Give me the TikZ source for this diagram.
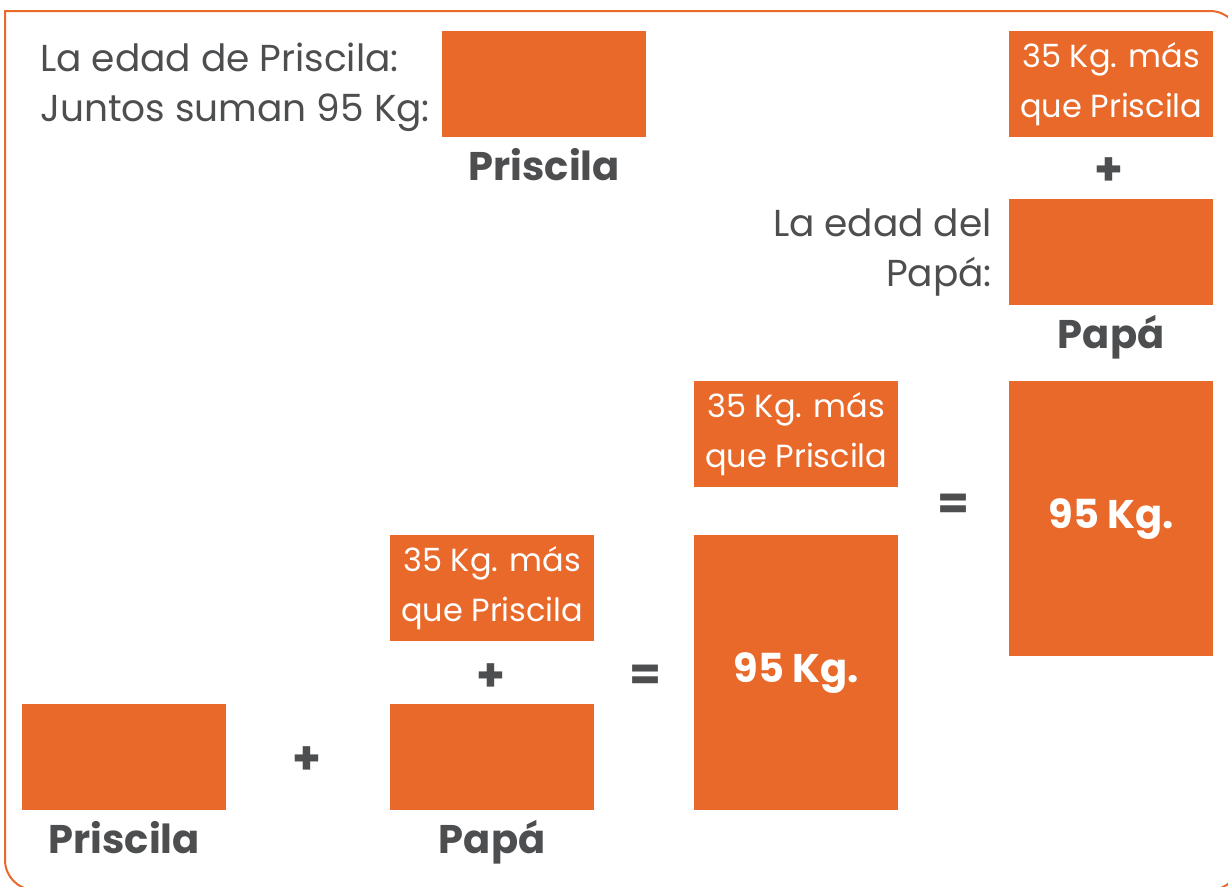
\documentclass[tikz,border=0pt]{standalone}
\usepackage{fontspec}
\setmainfont{Poppins}
\usepackage{xcolor}
\usepackage{tikz}
\usetikzlibrary{positioning}
\definecolor{naranja}{HTML}{E8692A}
\definecolor{texto}{HTML}{4D4E50}

\begin{document}
\begin{tikzpicture}[x=1pt,y=-1pt, every node/.style={text=texto,font=\fontsize{37.5}{50}\selectfont}, caja/.style={fill=naranja,minimum width=204pt,minimum height=106pt,inner sep=0pt,anchor=north west,text=white,align=center,font=\fontsize{32}{50}\selectfont}, alta/.style={caja,minimum height=275pt,font=\bfseries\fontsize{40}{40}\selectfont}, nombre/.style={font=\bfseries\fontsize{40}{40}\selectfont,inner sep=0pt,anchor=base}, op/.style={font=\bfseries\fontsize{46}{46}\selectfont,inner sep=0pt}, marco/.style={draw=naranja,line width=2pt}]
\clip (0,0) rectangle (1228,886);
\useasboundingbox (0,0) rectangle (1228,886);
\draw[marco] (5,60) -- (5,11) [rounded corners=30pt] -- (1240,11) -- (1240,890) -- (5,890) -- (5,40);
% datos
\node[anchor=base west,align=left,inner sep=0pt] (datos) at (40,121) {La edad de Priscila:\\Juntos suman 95 Kg:};
\node[caja] (pris1) at (442,31) {};
\node[nombre] (npris1) at ([yshift=-43pt]pris1.south) {Priscila};
\node[caja] (mas1) at (1009,31) {35 Kg. más\\que Priscila};
\node[op] (suma1) at (1109,172) {+};
\node[caja] (papa1) at (1009,199) {};
\node[align=right,left=17pt of papa1,inner sep=0pt] (edadpapa) {La edad del\\Papá:};
\node[nombre] (npapa1) at ([yshift=-43pt]papa1.south) {Papá};
% ecuacion
\node[caja] (mas2) at (694,381) {35 Kg. más\\que Priscila};
\node[alta] (total2) at (694,535) {95 Kg.};
\node[op] (igual2) at (953,507) {=};
\node[alta] (total3) at (1009,381) {95 Kg.};
\node[caja] (mas3) at (390,535) {35 Kg. más\\que Priscila};
\node[op] (suma3) at (491,678) {+};
\node[op] (igual3) at (645,678) {=};
\node[caja] (pris2) at (22,704) {};
\node[nombre] (npris2) at ([yshift=-43pt]pris2.south) {Priscila};
\node[op] (suma2) at (307,761) {+};
\node[caja] (papa2) at (390,704) {};
\node[nombre] (npapa2) at ([yshift=-43pt]papa2.south) {Papá};
\end{tikzpicture}
\end{document}
